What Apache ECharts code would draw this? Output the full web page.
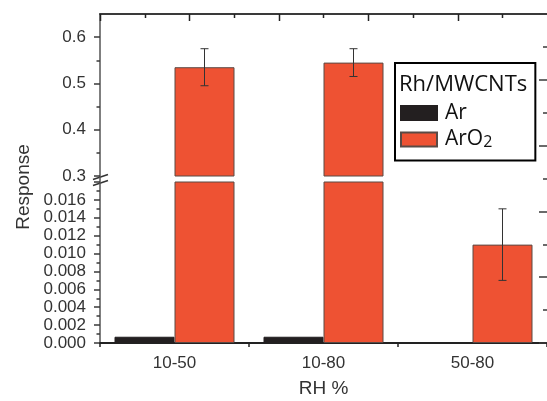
<!DOCTYPE html>
<html><head><meta charset="utf-8">
<script src="https://cdn.jsdelivr.net/npm/echarts@6/dist/echarts.min.js"></script>
<style>html,body{margin:0;padding:0;background:#fff}#c{width:547px;height:401px}</style>
</head><body><div id="c"></div>
<script>
// ---- data ----
const categories = ['10-50', '10-80', '50-80'];
const arValues = [0.0007, 0.0007, null];
const aro2Values = [0.535, 0.545, 0.011];
const aro2Errors = [0.04, 0.03, 0.004];
const upperRange = [0.3, 0.65];
const upperMajorTicks = [0.3, 0.4, 0.5, 0.6];
const upperMinorTicks = [0.35, 0.45, 0.55];
const lowerRange = [0, 0.018];
const lowerTickStep = 0.002;
const topTickBands = ['t0', 't1', 't2', 't3', 't4', 't5', 't6', 't7', 't8', 't9'];
const seriesNames = ['Ar', 'ArO2'];
const legendTitle = 'Rh/MWCNTs';
const xTitle = 'RH %';
const yTitle = 'Response';

// ---- styles ----
const RED = '#EE5233', BLACK = '#231F20';
const AX = '#3a3a3a';
const LBL = { fontFamily: 'Liberation Sans', fontSize: 17, color: '#333' };

const errUpper = categories.map((c, i) => [i, aro2Values[i], aro2Errors[i]]).filter(d => d[1] >= upperRange[0]);
const errLower = categories.map((c, i) => [i, aro2Values[i], aro2Errors[i]]).filter(d => d[1] <= lowerRange[1]);
const topTickData = topTickBands.map((b, i) => [i, 1]);

function errorItem(params, api) {
  const i = api.value(0), v = api.value(1), e = api.value(2);
  const band = api.size([1, 0])[0];
  const off = band * 0.2;
  const t = api.coord([i, v + e]);
  const b = api.coord([i, v - e]);
  const x = Math.round(t[0] + off) + 0.5;
  const cap = 4;
  const st = { stroke: '#333', lineWidth: 1 };
  return { type: 'group', children: [
    { type: 'line', shape: { x1: x, y1: t[1], x2: x, y2: b[1] }, style: st },
    { type: 'line', shape: { x1: x - cap, y1: t[1], x2: x + cap, y2: t[1] }, style: st },
    { type: 'line', shape: { x1: x - cap, y1: b[1], x2: x + cap, y2: b[1] }, style: st }
  ]};
}
// tick marks of the top frame axis, one at the left edge of each band
function topTickItem(params, api) {
  const i = api.value(0);
  const band = api.size([1, 0])[0];
  const p = api.coord([i, api.value(1)]);
  const x = Math.round(p[0] - band / 2) + 0.5;
  const len = i % 2 === 0 ? 7 : 4;
  return { type: 'line', shape: { x1: x, y1: p[1], x2: x, y2: p[1] + len }, style: { stroke: '#222', lineWidth: 1.5 } };
}

const arStyle = { color: BLACK, borderColor: BLACK, borderWidth: 1 };
const redStyle = { color: RED, borderColor: '#5a4a45', borderWidth: 1 };

const chart = echarts.init(document.getElementById('c'), null, { renderer: 'canvas' });
chart.setOption({
  animation: false,
  backgroundColor: '#fff',
  grid: [
    { left: 100, top: 14, width: 450, height: 162 },
    { left: 100, top: 182, width: 450, height: 161 },
    { left: 100, top: 14, width: 450, height: 329 }
  ],
  xAxis: [
    { gridIndex: 0, type: 'category', data: categories, show: false },
    { gridIndex: 1, type: 'category', data: categories, position: 'bottom',
      name: xTitle, nameLocation: 'middle', nameGap: 36,
      nameTextStyle: { fontFamily: 'Liberation Sans', fontSize: 19, color: '#333' },
      axisLine: { onZero: false, lineStyle: { color: '#222', width: 2 } },
      axisTick: { alignWithLabel: true, interval: 0, length: 8, lineStyle: { color: '#222', width: 1.5 } },
      axisLabel: Object.assign({ margin: 12 }, LBL) },
    { gridIndex: 2, type: 'category', position: 'bottom', data: categories,
      axisLine: { show: false, onZero: false },
      axisTick: { show: true, interval: 0, length: 4, lineStyle: { color: '#222', width: 1.5 } },
      axisLabel: { show: false }, splitLine: { show: false } },
    { gridIndex: 2, type: 'category', position: 'top', data: topTickBands,
      axisLine: { show: true, onZero: false, lineStyle: { color: AX, width: 2 } },
      axisTick: { show: false }, axisLabel: { show: false }, splitLine: { show: false } }
  ],
  yAxis: [
    { gridIndex: 0, type: 'value', position: 'left', min: upperRange[0], max: upperRange[1],
      axisLine: { show: false, onZero: false },
      axisTick: { show: true, customValues: upperMajorTicks, length: 6, lineStyle: { color: AX, width: 1.5 } },
      axisLabel: Object.assign({ customValues: upperMajorTicks, margin: 14, formatter: v => v.toFixed(1) }, LBL),
      splitLine: { show: false } },
    { gridIndex: 0, type: 'value', position: 'left', min: upperRange[0], max: upperRange[1],
      axisLine: { show: false, onZero: false },
      axisTick: { show: true, customValues: upperMinorTicks, length: 3.5, lineStyle: { color: AX, width: 1.5 } },
      axisLabel: { show: false }, splitLine: { show: false } },
    { gridIndex: 1, type: 'value', position: 'left', min: lowerRange[0], max: lowerRange[1], interval: lowerTickStep,
      axisLine: { show: false, onZero: false },
      axisTick: { show: true, length: 6, lineStyle: { color: AX, width: 1.5 } },
      minorTick: { show: true, splitNumber: 2, length: 3.5, lineStyle: { color: AX, width: 1.5 } },
      axisLabel: Object.assign({ margin: 14, showMaxLabel: false, formatter: v => v.toFixed(3) }, LBL),
      splitLine: { show: false } },
    { gridIndex: 2, type: 'value', position: 'right', min: 0, max: 5, interval: 1,
      axisLine: { show: false, onZero: false },
      axisTick: { show: true, inside: true, length: 8, lineStyle: { color: AX, width: 1.5 } },
      minorTick: { show: true, splitNumber: 2, length: 4, lineStyle: { color: AX, width: 1.5 } },
      axisLabel: { show: false }, splitLine: { show: false } },
    { gridIndex: 2, type: 'value', position: 'left', min: 0, max: 1,
      axisLine: { show: true, onZero: false, lineStyle: { color: '#555', width: 1.5 } },
      axisTick: { show: false }, axisLabel: { show: false }, splitLine: { show: false } }
  ],
  title: { text: legendTitle, left: 399, top: 73, padding: 0,
    textStyle: { fontFamily: 'Open Sans', fontSize: 22, fontWeight: 'normal', color: '#111', lineHeight: 24 } },
  legend: {
    data: seriesNames, orient: 'vertical', left: 395, top: 63,
    padding: [39, 43, 10, 5], itemWidth: 36, itemHeight: 14, itemGap: 4.5,
    icon: 'rect', selectedMode: false,
    borderColor: '#000', borderWidth: 2, borderRadius: 0, backgroundColor: '#fff',
    formatter: n => n === 'ArO2' ? '{n|ArO}{sub|2}' : '{n|' + n + '}',
    textStyle: { fontFamily: 'Open Sans', fontSize: 21, color: '#111', lineHeight: 22,
      rich: {
        n: { fontFamily: 'Open Sans', fontSize: 21, lineHeight: 22, color: '#111', padding: [0, 0, 0, 3] },
        sub: { fontFamily: 'Open Sans', fontSize: 16, lineHeight: 12, verticalAlign: 'bottom', color: '#111' }
      } }
  },
  graphic: [
    { type: 'text', x: 24, y: 187, rotation: Math.PI / 2,
      style: { text: yTitle, font: '19px "Liberation Sans"', fill: '#333', align: 'center', verticalAlign: 'middle' } },
    { type: 'line', shape: { x1: 93, y1: 179.5, x2: 108, y2: 174.5 }, style: { stroke: '#333', lineWidth: 1.5 } },
    { type: 'line', shape: { x1: 93, y1: 185.5, x2: 108, y2: 180.5 }, style: { stroke: '#333', lineWidth: 1.5 } }
  ],
  series: [
    { name: 'Ar', type: 'bar', xAxisIndex: 0, yAxisIndex: 0, data: arValues, barWidth: 60, barGap: '0%', itemStyle: arStyle, clip: true },
    { name: 'ArO2', type: 'bar', xAxisIndex: 0, yAxisIndex: 0, data: aro2Values, barWidth: 60, barGap: '0%', itemStyle: redStyle, clip: true },
    { name: 'Ar', type: 'bar', xAxisIndex: 1, yAxisIndex: 2, data: arValues, barWidth: 60, barGap: '0%', itemStyle: arStyle, clip: true },
    { name: 'ArO2', type: 'bar', xAxisIndex: 1, yAxisIndex: 2, data: aro2Values, barWidth: 60, barGap: '0%', itemStyle: redStyle, clip: true },
    { name: 'errU', type: 'custom', xAxisIndex: 0, yAxisIndex: 0, data: errUpper, encode: { x: 0, y: 1 }, renderItem: errorItem, z: 5 },
    { name: 'errL', type: 'custom', xAxisIndex: 1, yAxisIndex: 2, data: errLower, encode: { x: 0, y: 1 }, renderItem: errorItem, z: 5 },
    { name: 'topTicks', type: 'custom', xAxisIndex: 3, yAxisIndex: 4, data: topTickData, encode: { x: 0, y: 1 }, renderItem: topTickItem, z: 5, silent: true }
  ]
});
</script></body></html>
